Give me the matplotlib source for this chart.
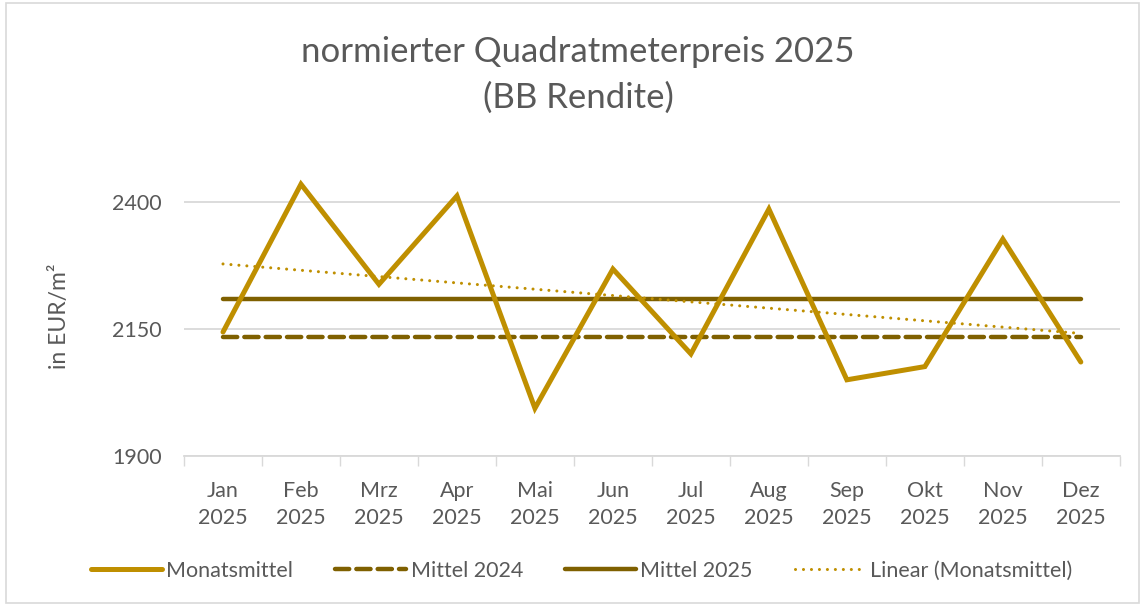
import numpy as np
import matplotlib.pyplot as plt
from matplotlib.patches import Rectangle

plt.rcParams['font.family'] = ['Lato', 'DejaVu Sans']

# Daten
monate = ["Jan\n2025", "Feb\n2025", "Mrz\n2025", "Apr\n2025", "Mai\n2025", "Jun\n2025",
          "Jul\n2025", "Aug\n2025", "Sep\n2025", "Okt\n2025", "Nov\n2025", "Dez\n2025"]
monatsmittel = [2144, 2435, 2238, 2412, 1994, 2268, 2101, 2386, 2050, 2076, 2327, 2085]
mittel_2024 = 2134
y_ticks = [1900, 2150, 2400]

gold = '#BF8F00'
dunkel = '#7F6000'
grau = '#595959'

x = np.arange(len(monate))
mittel_2025 = np.mean(monatsmittel)
trend = np.polyval(np.polyfit(x, monatsmittel, 1), x)

fig = plt.figure(figsize=(11.45, 6.06), dpi=100)
ax = fig.add_axes([0.1607, 0.2475, 0.8173, 0.4611])

ax.plot(x, monatsmittel, color=gold, lw=3.6, solid_joinstyle='miter',
        solid_capstyle='round', label='Monatsmittel', zorder=3)
ax.plot(x, [mittel_2024] * len(x), color=dunkel, lw=3.2, dashes=(3.2, 1.6),
        dash_capstyle='round', label='Mittel 2024', zorder=2)
ax.plot(x, [mittel_2025] * len(x), color=dunkel, lw=3.2, solid_capstyle='round',
        label='Mittel 2025', zorder=2)
ax.plot(x, trend, color=gold, lw=2.2, dashes=(0.01, 2.6), dash_capstyle='round',
        label='Linear (Monatsmittel)', zorder=2)

ax.set_xlim(-0.5, len(x) - 0.5)
ax.set_ylim(1900, 2450)
ax.set_yticks(y_ticks)
ax.set_xticks(x)
ax.set_xticklabels(monate, linespacing=1.45)
ax.set_xticks(np.arange(-0.5, len(x)), minor=True)
ax.tick_params(axis='x', which='major', length=0, pad=18, labelsize=15.5, colors=grau)
ax.tick_params(axis='x', which='minor', length=7, width=1, color='#D9D9D9')
ax.tick_params(axis='y', length=0, pad=16, labelsize=15.5, colors=grau)
ax.grid(axis='y', color='#D9D9D9', lw=1.3, zorder=0)
for s in ['top', 'right', 'left']:
    ax.spines[s].set_visible(False)
ax.spines['bottom'].set_color('#D9D9D9')
ax.spines['bottom'].set_linewidth(1.3)

ax.set_ylabel('in EUR/m²', fontsize=16.5, color=grau, labelpad=30)

fig.text(0.505, 0.915, 'normierter Quadratmeterpreis 2025', ha='center', va='center',
         fontsize=25, color=grau)
fig.text(0.505, 0.838, '(BB Rendite)', ha='center', va='center', fontsize=25, color=grau)

fig.legend(loc='center', bbox_to_anchor=(0.508, 0.058), ncol=4, frameon=False,
           fontsize=15.5, labelcolor=grau, handlelength=3.3, handletextpad=0.2,
           columnspacing=1.95)

fig.patches.append(Rectangle((0.005, 0.005), 0.99, 0.99, transform=fig.transFigure,
                             fill=False, edgecolor='#D9D9D9', lw=1.2))

fig.savefig('out.png', dpi=100)
